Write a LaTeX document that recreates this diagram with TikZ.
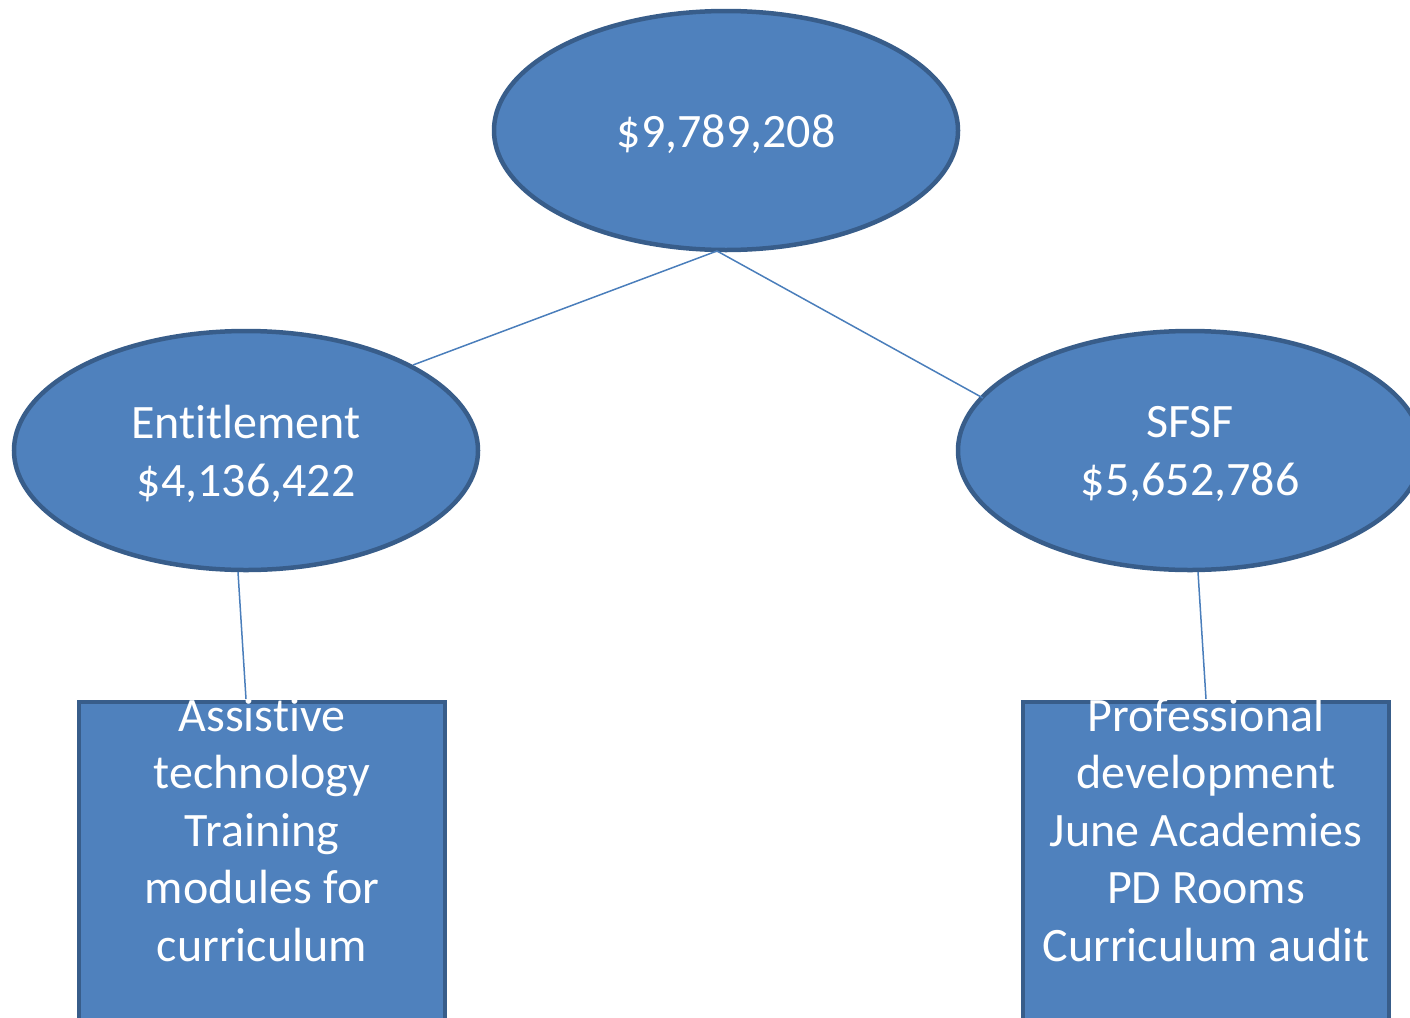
\documentclass[tikz,border=0pt]{standalone}
\usepackage{fontspec}
\setmainfont[Ligatures={NoCommon}]{Carlito}
\usetikzlibrary{shapes.geometric}
\definecolor{fillblue}{HTML}{4F81BD}
\definecolor{edgeblue}{HTML}{385D8A}
\definecolor{linkblue}{HTML}{4A7EBB}
\tikzset{
  x=1pt, y=-1pt,
  bubble/.style={ellipse, draw=edgeblue, fill=fillblue, line width=4.5pt, inner sep=0pt,
    minimum width=464pt, minimum height=239pt},
  bubbletext/.style={text=white, align=center, inner sep=0pt, yshift=-3.5pt,
    font=\fontsize{48}{57.5}\selectfont},
  panel/.style={rectangle, draw=edgeblue, fill=fillblue, line width=4pt, inner sep=0pt,
    minimum width=366pt, minimum height=360pt, anchor=north},
  paneltext/.style={text=white, align=center, anchor=north, inner sep=0pt,
    font=\fontsize{48}{57.5}\selectfont},
  link/.style={draw=linkblue, line width=1.5pt}
}
\begin{document}
\begin{tikzpicture}
\useasboundingbox (0,0) rectangle (1410,1017);
\begin{scope}
\clip (0,0) rectangle (1410,1017);
\coordinate (topb) at (717,251);
\coordinate (lefte) at (413,365);
\coordinate (righte) at (983,398);
\coordinate (leftb) at (238,572);
\coordinate (rightb) at (1198,572);
\coordinate (leftbox) at (246,699);
\coordinate (rightbox) at (1206,699);

\node[panel] (boxL) at (262,700) {};
\node[panel] (boxR) at (1206,700) {};
\node[paneltext] (txtL) at (262,690.75) {\strut Assistive\\technology\\Training\\modules for\\curriculum};
\node[paneltext] (txtR) at (1206,690.75) {\strut Professional\\development\\June Academies\\PD Rooms\\Curriculum audit};

\node[bubble] (top) at (726,130.5) {};
\node[bubble] (ent) at (246,450.5) {};
\node[bubble] (sfsf) at (1190,450.5) {};
\node[bubbletext] (topT) at (top.center) {\$9,789,208};
\node[bubbletext] (entT) at (ent.center) {Entitlement\\\$4,136,422};
\node[bubbletext] (sfsfT) at (sfsf.center) {SFSF\\\$5,652,786};

\draw[link] (topb) -- (lefte);
\draw[link] (topb) -- (righte);
\draw[link] (leftb) -- (leftbox);
\draw[link] (rightb) -- (rightbox);
\end{scope}
\end{tikzpicture}
\end{document}
